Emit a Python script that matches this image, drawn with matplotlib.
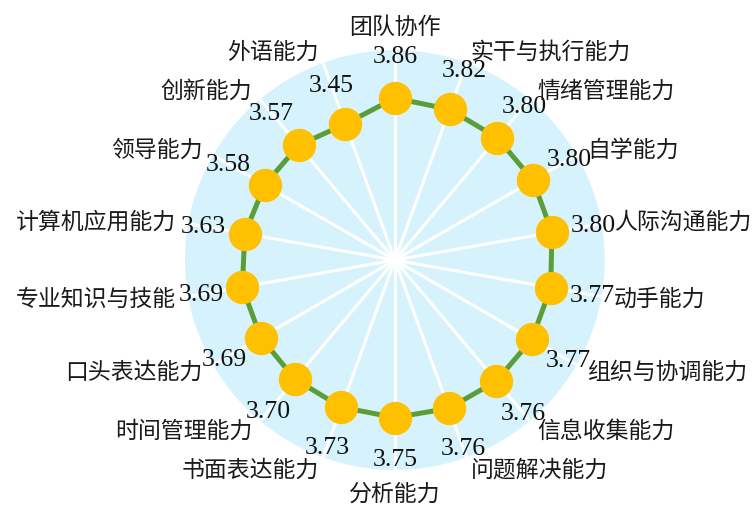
import numpy as np
import matplotlib
matplotlib.use('Agg')
import matplotlib.pyplot as plt

plt.rcParams['font.family'] = ['Liberation Serif', 'Noto Sans CJK SC', 'DejaVu Sans']

# abilities, clockwise from the top
abilities = ['团队协作', '实干与执行能力', '情绪管理能力', '自学能力', '人际沟通能力',
             '动手能力', '组织与协调能力', '信息收集能力', '问题解决能力', '分析能力',
             '书面表达能力', '时间管理能力', '口头表达能力', '专业知识与技能',
             '计算机应用能力', '领导能力', '创新能力', '外语能力']
scores = [3.86, 3.82, 3.80, 3.80, 3.80, 3.77, 3.77, 3.76, 3.76, 3.75,
          3.73, 3.70, 3.69, 3.69, 3.63, 3.58, 3.57, 3.45]

n = len(abilities)
angles = np.linspace(0, 2 * np.pi, n, endpoint=False)

fig = plt.figure(figsize=(7.55, 5.06), dpi=100)
ax = fig.add_axes([0.245, 0.069, 0.556, 0.830], projection='polar')
ax.set_theta_zero_location('N')
ax.set_theta_direction(-1)
ax.set_ylim(0, 5)
ax.set_facecolor('#d6f3fd')
ax.spines['polar'].set_visible(False)
ax.set_yticks([])
ax.set_xticks(angles)
ax.set_xticklabels([])
ax.xaxis.grid(True, color='white', linewidth=2.2)
ax.yaxis.grid(False)

closed_a = np.append(angles, angles[0])
closed_s = np.append(scores, scores[0])
ax.plot(closed_a, closed_s, color='#5a9e3a', linewidth=3.6, zorder=3)
ax.plot(angles, scores, 'o', color='#ffc000', markersize=23, zorder=4)

# value labels just outside each marker
for a, s in zip(angles, scores):
    ax.text(a, s + 1.0, f'{s:.2f}', ha='center', va='center', fontsize=18.5,
            family='Liberation Serif', color='#111111', zorder=5)

# category labels round the outside
for a, name in zip(angles, abilities):
    deg = np.degrees(a) % 360
    if np.isclose(deg, 0):
        ha, va = 'center', 'bottom'
    elif np.isclose(deg, 180):
        ha, va = 'center', 'top'
    elif deg < 180:
        ha, va = 'left', 'center'
    else:
        ha, va = 'right', 'center'
    ax.text(a, 5.29, name, ha=ha, va=va, fontsize=16.5,
            family=['Noto Sans CJK SC'], color='#1a1a1a', clip_on=False, zorder=5)

fig.savefig('out.png', dpi=100)
